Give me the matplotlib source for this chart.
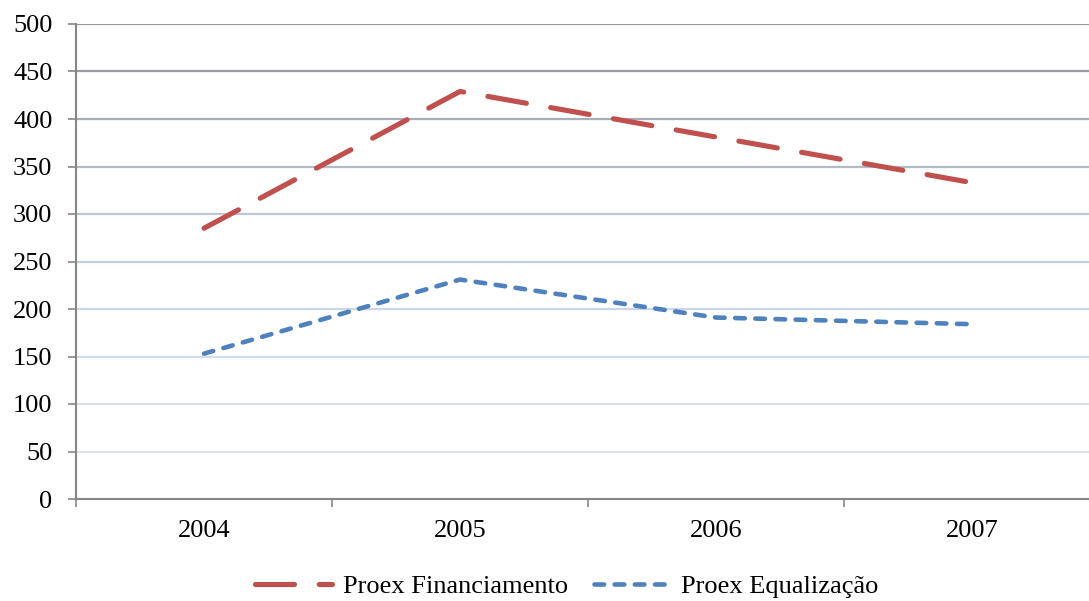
import matplotlib.pyplot as plt
from matplotlib.lines import Line2D

plt.rcParams['font.family'] = ['Liberation Serif', 'DejaVu Serif']

years = ['2004', '2005', '2006', '2007']
financiamento = [285, 429, 381, 333]
equalizacao = [153, 231, 191, 184]
y_ticks = [0, 50, 100, 150, 200, 250, 300, 350, 400, 450, 500]

# gridlines fade from grey at the top to pale blue at the bottom
grid_colors = ['#dde6f5', '#dae3f3', '#d6e0f0', '#d1dcee', '#cbd6ea',
               '#c4cfe3', '#bcc6d6', '#b3bbc9', '#a8adb7', '#9c9ea3', '#979899']

red = '#C0504D'
blue = '#4F81BD'
fs = 19

fig = plt.figure(figsize=(10.89, 6.01), dpi=100)
ax = fig.add_axes([76 / 1089, 1 - 499 / 601, 1 - 76 / 1089, (499 - 24) / 601])

for v, c in zip(y_ticks[1:], grid_colors[1:]):
    ax.axhline(v, color=c, lw=1.6, zorder=1)

x = [i + 0.5 for i in range(len(years))]
ax.plot(x, financiamento, color=red, lw=3.7, dash_capstyle='round',
        solid_capstyle='round', dashes=(7.6, 4.8), zorder=3)
ax.plot(x, equalizacao, color=blue, lw=3.3, dash_capstyle='round',
        solid_capstyle='round', dashes=(2.1, 2.3), zorder=3)

ax.set_xlim(0, (1089 - 76) / 256)
ax.set_ylim(0, 500)

ax.set_yticks(y_ticks)
ax.tick_params(axis='y', length=6, width=1.2, color='#868686', pad=11,
               labelsize=fs)

ax.set_xticks(range(len(years)))
ax.set_xticklabels([])
ax.set_xticks(x, minor=True)
ax.set_xticklabels(years, minor=True)
ax.tick_params(axis='x', which='major', length=6, width=1.2, color='#868686')
ax.tick_params(axis='x', which='minor', length=0, pad=15, labelsize=fs)

for s in ['top', 'right']:
    ax.spines[s].set_visible(False)
for s in ['left', 'bottom']:
    ax.spines[s].set_color('#868686')
    ax.spines[s].set_linewidth(1.5)

handles = [
    Line2D([], [], color=red, lw=3.7, dash_capstyle='round', dashes=(7.6, 4.8)),
    Line2D([], [], color=blue, lw=3.3, dash_capstyle='round', dashes=(2.1, 2.3)),
]
fig.legend(handles, ['Proex Financiamento', 'Proex Equalização'],
           loc='center', bbox_to_anchor=(567 / 1089, 1 - 586 / 601), ncol=2,
           frameon=False, fontsize=fs, handlelength=2.9, handletextpad=0.4,
           columnspacing=1.0)

fig.savefig('out.png', dpi=100)
